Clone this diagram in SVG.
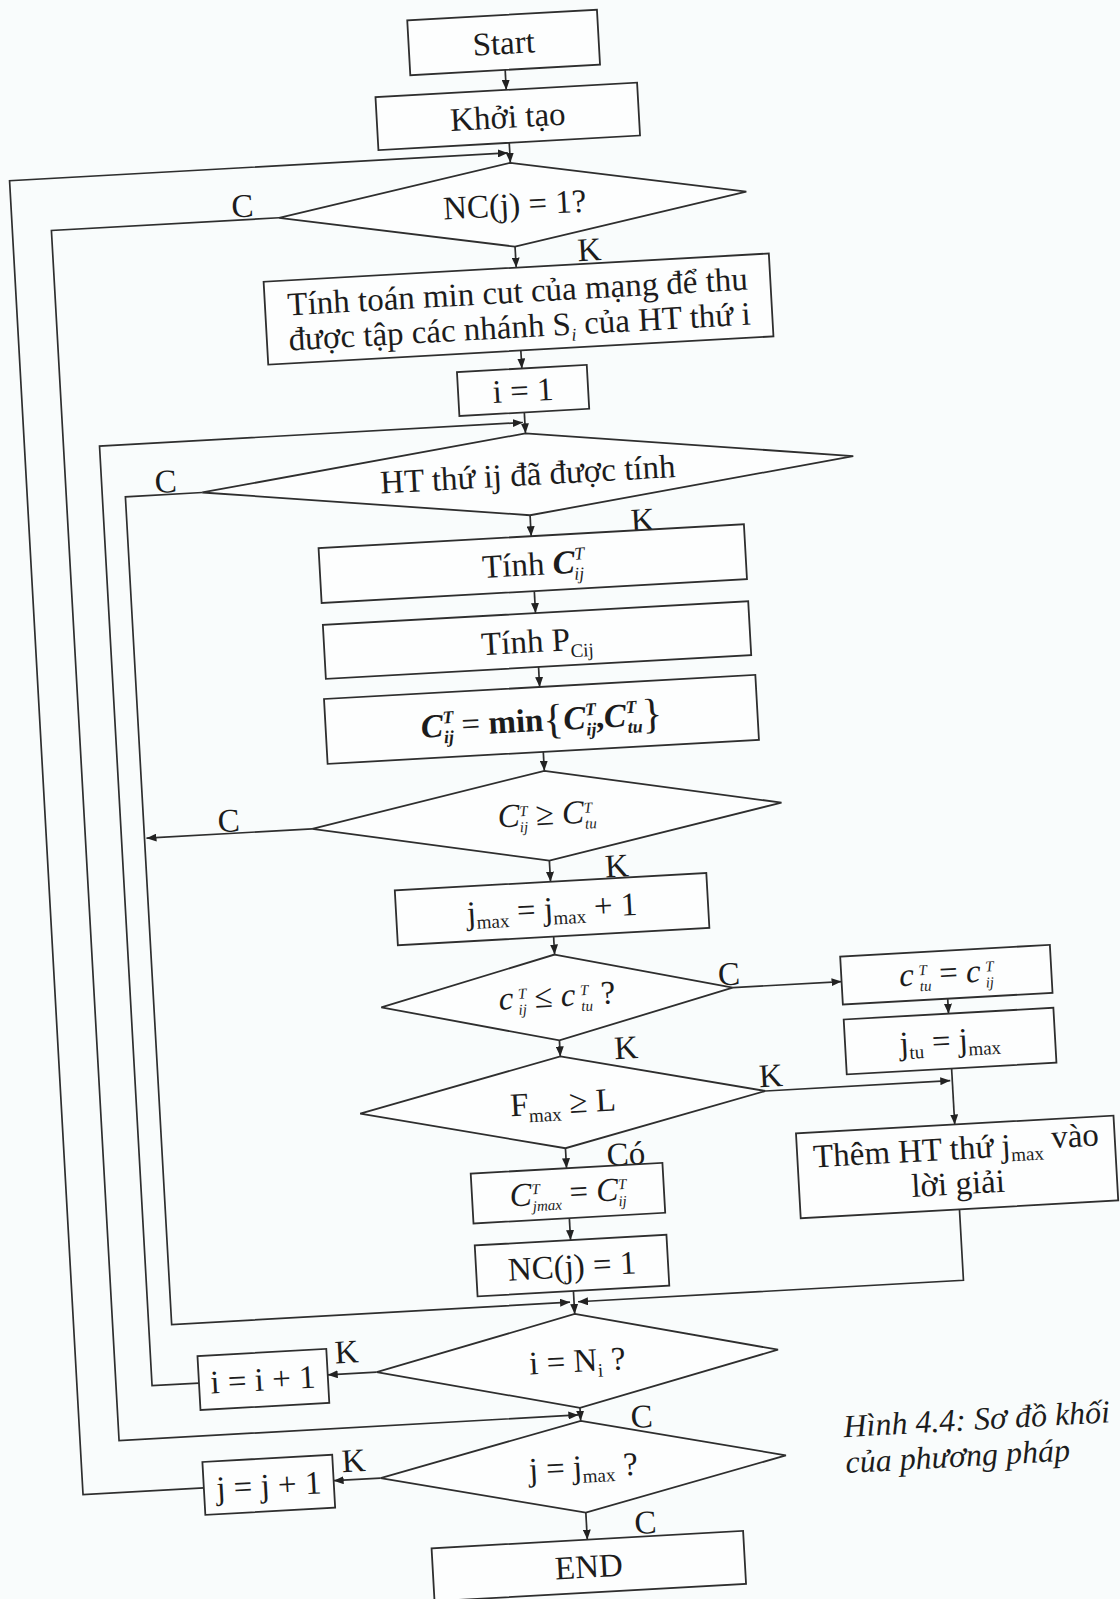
<svg xmlns="http://www.w3.org/2000/svg" width="1120" height="1599" viewBox="0 0 1120 1599">
<style>
.bg{fill:#f9fcfc}
.box{fill:#fdfefe;stroke:#2e2e2e;stroke-width:1.8}
.ln{fill:none;stroke:#2e2e2e;stroke-width:1.7}
.t{font-family:"Liberation Serif","Times New Roman",serif;font-size:33px;fill:#1c1c1c;text-anchor:middle}
.cap{font-family:"Liberation Serif","Times New Roman",serif;font-size:32px;font-style:italic;fill:#1c1c1c}
.it{font-style:italic}
.bi{font-style:italic;font-weight:bold}
.sp{font-size:18px;font-style:italic}
.sb{font-size:18px;font-style:italic}
.sp2{font-size:15px;font-style:italic}
.sb2{font-size:15px;font-style:italic}
.sm{font-size:19px}
</style>
<defs>
<marker id="ah" viewBox="0 0 10 8" refX="10" refY="4" markerWidth="10" markerHeight="8" markerUnits="userSpaceOnUse" orient="auto"><path d="M0,0 L10,4 L0,8 z" fill="#222"/></marker>
</defs>
<rect class="bg" x="0" y="0" width="1120" height="1599"/>
<g transform="rotate(-3.2 560 800)">
<g id="connectors" class="ln" marker-end="url(#ah)">
<path d="M546,68 V88"/>
<path d="M546,141 V161"/>
<path d="M166,1467 H45 V151 H544"/>
<path d="M312,203 H84 V1415 H544"/>
<path d="M546,245 V266"/>
<path d="M546,349 V367"/>
<path d="M546,411 V432"/>
<path d="M167,1362 H120 V421 H544"/>
<path d="M220,473 H143 V1302 H542"/>
<path d="M546,514 V535"/>
<path d="M546,590 V612"/>
<path d="M546,666 V686"/>
<path d="M546,751 V770"/>
<path d="M311,815 H145"/>
<path d="M546,860 V881"/>
<path d="M546,936 V954"/>
<path d="M722,997 H831"/>
<path d="M936,1020 V1035"/>
<path d="M546,1040 V1056"/>
<path d="M749,1102 H934"/>
<path d="M936,1090 V1146"/>
<path d="M546,1148 V1168"/>
<path d="M546,1218 V1240"/>
<path d="M546,1291 V1314"/>
<path d="M936,1231 V1302 H550"/>
<path d="M345,1361 H296"/>
<path d="M546,1408 V1421"/>
<path d="M343,1467 H296"/>
<path d="M546,1513 V1540"/>
</g>
<g id="edge-labels" class="t">
<text x="276" y="200">C</text>
<text x="620" y="263">K</text>
<text x="184" y="471">C</text>
<text x="658" y="536">K</text>
<text x="228" y="813">C</text>
<text x="613" y="880">K</text>
<text x="719" y="994">C</text>
<text x="612" y="1062">K</text>
<text x="755" y="1098">K</text>
<text x="606" y="1168">Có</text>
<text x="316" y="1350">K</text>
<text x="607" y="1431">C</text>
<text x="317" y="1459">K</text>
<text x="605" y="1537">C</text>
</g>
<g id="start"><rect class="box" x="451" y="13" width="190" height="55"/><text class="t" x="546" y="52">Start</text></g>
<g id="khoi-tao"><rect class="box" x="415" y="88" width="262" height="53"/><text class="t" x="546" y="126">Khởi tạo</text></g>
<g id="nc-check"><polygon class="box" points="546,161 780,203 546,245 312,203"/><text class="t" x="548" y="214">NC(j) = 1?</text></g>
<g id="min-cut"><rect class="box" x="293" y="266" width="506" height="83"/><text class="t" x="546" y="301">Tính toán min cut của mạng để thu</text><text class="t" x="546" y="336">được tập các nhánh S<tspan class="sb" dy="6">i</tspan><tspan dy="-6"> của HT thứ i</tspan></text></g>
<g id="i-init"><rect class="box" x="481" y="367" width="130" height="44"/><text class="t" x="546" y="400">i = 1</text></g>
<g id="ht-check"><polygon class="box" points="546,432 872,473 546,514 220,473"/><text class="t" x="546" y="484">HT thứ ij đã được tính</text></g>
<g id="tinh-c"><rect class="box" x="333" y="535" width="426" height="55"/><text class="t" x="546" y="574">Tính <tspan class="bi">C</tspan><tspan class="sp" dy="-13">T</tspan><tspan class="sb" dx="-10" dy="20">ij</tspan></text></g>
<g id="tinh-p"><rect class="box" x="333" y="612" width="426" height="54"/><text class="t" x="546" y="651">Tính P<tspan class="sm" dy="7">Cij</tspan></text></g>
<g id="c-min"><rect class="box" x="330" y="686" width="432" height="65"/><text class="t" x="546" y="730" font-weight="bold"><tspan class="bi">C</tspan><tspan class="sp" dy="-13">T</tspan><tspan class="sb" dx="-10" dy="20">ij</tspan><tspan dy="-7" font-weight="normal"> = </tspan><tspan>min</tspan><tspan font-size="42" font-weight="normal" dy="3">{</tspan><tspan class="bi" dy="-3">C</tspan><tspan class="sp" dy="-13">T</tspan><tspan class="sb" dx="-10" dy="20">ij</tspan><tspan dy="-7">,</tspan><tspan class="bi">C</tspan><tspan class="sp" dy="-13">T</tspan><tspan class="sb" dx="-10" dy="20">tu</tspan><tspan font-size="42" font-weight="normal" dy="-4">}</tspan></text></g>
<g id="c-compare"><polygon class="box" points="546,770 781,815 546,860 311,815"/><text class="t" x="546" y="824" font-size="26"><tspan class="it">C</tspan><tspan class="sp2" dy="-10">T</tspan><tspan class="sb2" dx="-8" dy="16">ij</tspan><tspan dy="-6"> ≥ </tspan><tspan class="it">C</tspan><tspan class="sp2" dy="-10">T</tspan><tspan class="sb2" dx="-8" dy="16">tu</tspan></text></g>
<g id="jmax-inc"><rect class="box" x="390" y="881" width="312" height="55"/><text class="t" x="546" y="919">j<tspan class="sm" dy="5">max</tspan><tspan dy="-5"> = j</tspan><tspan class="sm" dy="5">max</tspan><tspan dy="-5"> + 1</tspan></text></g>
<g id="c-le"><polygon class="box" points="546,954 722,997 546,1040 370,997"/><text class="t" x="546" y="1006" font-size="27"><tspan class="it">c</tspan><tspan class="sp2" dx="5" dy="-10">T</tspan><tspan class="sb2" dx="-8" dy="16">ij</tspan><tspan dy="-6">  ≤  </tspan><tspan class="it">c</tspan><tspan class="sp2" dx="5" dy="-10">T</tspan><tspan class="sb2" dx="-8" dy="16">tu</tspan><tspan dy="-6"> ?</tspan></text></g>
<g id="c-tu"><rect class="box" x="831" y="972" width="210" height="48"/><text class="t" x="936" y="1005" font-size="27"><tspan class="it">c</tspan><tspan class="sp2" dx="5" dy="-10">T</tspan><tspan class="sb2" dx="-8" dy="16">tu</tspan><tspan dy="-6">  =  </tspan><tspan class="it">c</tspan><tspan class="sp2" dx="5" dy="-10">T</tspan><tspan class="sb2" dx="-8" dy="16">ij</tspan></text></g>
<g id="j-tu"><rect class="box" x="831" y="1035" width="210" height="55"/><text class="t" x="936" y="1073">j<tspan class="sm" dy="5">tu</tspan><tspan dy="-5"> = j</tspan><tspan class="sm" dy="5">max</tspan></text></g>
<g id="f-check"><polygon class="box" points="546,1056 749,1102 546,1148 343,1102"/><text class="t" x="546" y="1113">F<tspan class="sm" dy="7">max</tspan><tspan dy="-7"> ≥ L</tspan></text></g>
<g id="them-ht"><rect class="box" x="777" y="1146" width="318" height="85"/><text class="t" x="936" y="1181">Thêm HT thứ j<tspan class="sm" dy="5">max</tspan><tspan dy="-11"> vào</tspan></text><text class="t" x="936" y="1216">lời giải</text></g>
<g id="c-jmax"><rect class="box" x="450" y="1168" width="192" height="50"/><text class="t" x="546" y="1203" font-size="28"><tspan class="it">C</tspan><tspan class="sp2" dy="-11">T</tspan><tspan class="sb2" dx="-8" dy="17">jmax</tspan><tspan dy="-6"> = </tspan><tspan class="it">C</tspan><tspan class="sp2" dy="-11">T</tspan><tspan class="sb2" dx="-8" dy="17">ij</tspan></text></g>
<g id="nc-set"><rect class="box" x="450" y="1240" width="192" height="51"/><text class="t" x="546" y="1277">NC(j) = 1</text></g>
<g id="i-check"><polygon class="box" points="546,1314 747,1361 546,1408 345,1361"/><text class="t" x="546" y="1372">i = N<tspan class="sm" dy="6">i</tspan><tspan dy="-6"> ?</tspan></text></g>
<g id="i-inc"><rect class="box" x="167" y="1335" width="129" height="54"/><text class="t" x="231" y="1373">i = i + 1</text></g>
<g id="j-check"><polygon class="box" points="546,1421 749,1467 546,1513 343,1467"/><text class="t" x="546" y="1478">j = j<tspan class="sm" dy="5">max</tspan><tspan dy="-5"> ?</tspan></text></g>
<g id="j-inc"><rect class="box" x="166" y="1441" width="130" height="53"/><text class="t" x="231" y="1479">j = j + 1</text></g>
<g id="end"><rect class="box" x="390" y="1540" width="312" height="53"/><text class="t" x="546" y="1578">END</text></g>
<g id="caption"><text class="cap" x="808" y="1452">Hình 4.4: Sơ đồ khối</text><text class="cap" x="808" y="1488">của phương pháp</text></g>
</g>
</svg>
